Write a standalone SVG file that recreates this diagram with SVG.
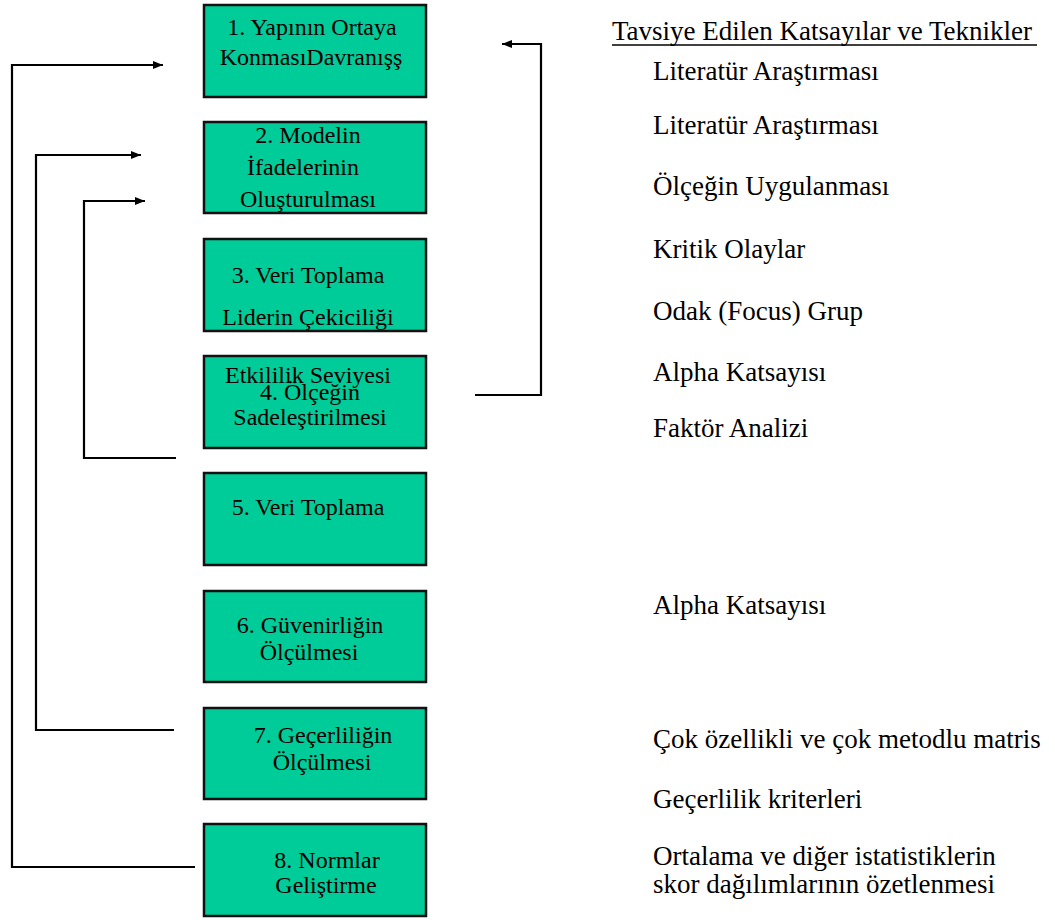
<svg xmlns="http://www.w3.org/2000/svg" width="1055" height="920" viewBox="0 0 1055 920">
<defs>
<style>
.box{fill:#00CC99;stroke:#111;stroke-width:2.5}
.t{font-family:"Liberation Serif","Times New Roman",serif;font-size:24px;fill:#000}
.r{font-family:"Liberation Serif","Times New Roman",serif;font-size:27px;fill:#000}
.c{text-anchor:middle}
.ln{fill:none;stroke:#000;stroke-width:2.2}
</style>
<marker id="ah" markerWidth="10" markerHeight="8" refX="10" refY="4" orient="auto" markerUnits="userSpaceOnUse">
<path d="M0,0 L10,4 L0,8 Z" fill="#000"/>
</marker>
</defs>
<rect width="1055" height="920" fill="#fff"/>
<g id="connectors">
<path class="ln" d="M195,867 H12 V65 H163" marker-end="url(#ah)"/>
<path class="ln" d="M174,730 H36 V155 H141" marker-end="url(#ah)"/>
<path class="ln" d="M176,458 H84 V201 H145" marker-end="url(#ah)"/>
<path class="ln" d="M475,395 H541 V44 H502" marker-end="url(#ah)"/>
</g>
<g id="n1"><rect class="box" x="204" y="5" width="222" height="92"/>
<text class="t c" x="312" y="35">1. Yapının Ortaya</text>
<text class="t c" x="311" y="65">KonmasıDavranışş</text></g>
<g id="n2"><rect class="box" x="204" y="122" width="222" height="91"/>
<text class="t c" x="308" y="143">2. Modelin</text>
<text class="t c" x="303" y="175">İfadelerinin</text>
<text class="t c" x="308" y="207">Oluşturulması</text></g>
<g id="n3"><rect class="box" x="204" y="239" width="222" height="92"/>
<text class="t c" x="308" y="283">3. Veri Toplama</text>
<text class="t c" x="308" y="325">Liderin Çekiciliği</text></g>
<g id="n4"><rect class="box" x="204" y="356" width="222" height="92"/>
<text class="t c" x="308" y="383">Etkililik Seviyesi</text>
<text class="t c" x="310" y="400">4. Ölçeğin</text>
<text class="t c" x="310" y="425">Sadeleştirilmesi</text></g>
<g id="n5"><rect class="box" x="204" y="473" width="222" height="92"/>
<text class="t c" x="308" y="515">5. Veri Toplama</text></g>
<g id="n6"><rect class="box" x="204" y="591" width="222" height="91"/>
<text class="t c" x="310" y="633">6. Güvenirliğin</text>
<text class="t c" x="309" y="660">Ölçülmesi</text></g>
<g id="n7"><rect class="box" x="204" y="708" width="222" height="91"/>
<text class="t c" x="323" y="743">7. Geçerliliğin</text>
<text class="t c" x="322" y="770">Ölçülmesi</text></g>
<g id="n8"><rect class="box" x="204" y="824" width="222" height="92"/>
<text class="t c" x="327" y="868">8. Normlar</text>
<text class="t c" x="326" y="893">Geliştirme</text></g>
<g id="techniques">
<text class="r" x="612" y="40">Tavsiye Edilen Katsayılar ve Teknikler</text>
<line x1="612" y1="45" x2="1037" y2="45" stroke="#000" stroke-width="1.3"/>
<text class="r" x="653" y="80">Literatür Araştırması</text>
<text class="r" x="653" y="134">Literatür Araştırması</text>
<text class="r" x="653" y="195">Ölçeğin Uygulanması</text>
<text class="r" x="653" y="258">Kritik Olaylar</text>
<text class="r" x="653" y="320">Odak (Focus) Grup</text>
<text class="r" x="653" y="381">Alpha Katsayısı</text>
<text class="r" x="653" y="437">Faktör Analizi</text>
<text class="r" x="653" y="614">Alpha Katsayısı</text>
<text class="r" x="653" y="748">Çok özellikli ve çok metodlu matris</text>
<text class="r" x="653" y="808">Geçerlilik kriterleri</text>
<text class="r" x="653" y="865">Ortalama ve diğer istatistiklerin</text>
<text class="r" x="653" y="893">skor dağılımlarının özetlenmesi</text>
</g>
</svg>
